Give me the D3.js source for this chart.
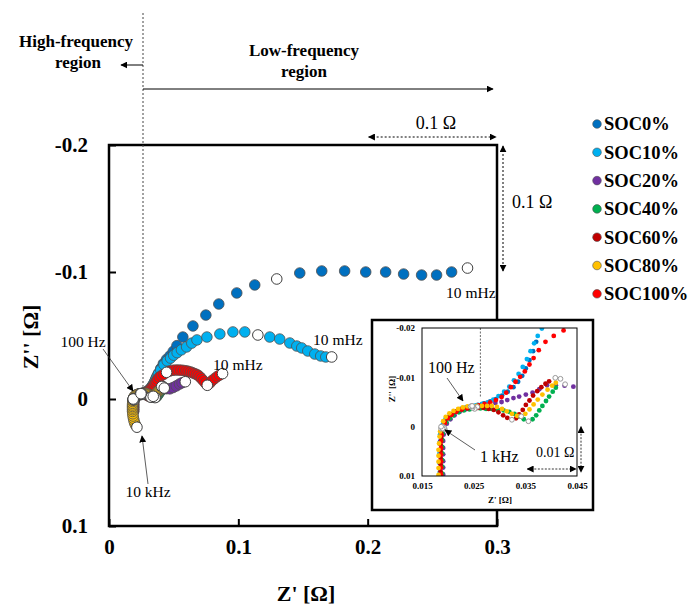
<!DOCTYPE html>
<html>
<head>
<meta charset="utf-8">
<script src="https://cdn.jsdelivr.net/npm/d3@7"></script>
<style>
    body { margin: 0; background: #fff; }
    svg { display: block; }
    text { font-family: "Liberation Serif", "Times New Roman", serif; }
</style>
</head>
<body>
<svg id="chart" width="688" height="605"></svg>
<script>
// Nyquist data [Z' (ohm), Z'' (ohm), decade frequency in Hz (0 = ordinary point)]
const soc0 = [
    [0.0185,0.0091,0],[0.0185,0.0071,0],[0.0185,0.0051,0],[0.0185,0.0030,0],[0.0186,0.0014,0],
    [0.0188,0.0002,1000],[0.0192,-0.0009,0],[0.0198,-0.0018,0],[0.0205,-0.0025,0],[0.0215,-0.0031,0],
    [0.0225,-0.0036,0],[0.0236,-0.0039,0],[0.0247,-0.0042,100],[0.0258,-0.0044,0],[0.0270,-0.0047,0],
    [0.0282,-0.0051,0],[0.0293,-0.0056,0],[0.0305,-0.0063,0],[0.0316,-0.0071,0],[0.0327,-0.0080,0],
    [0.0336,-0.0091,0],[0.0344,-0.0103,0],[0.0351,-0.0118,0],[0.0358,-0.0135,0],[0.0365,-0.0153,0],
    [0.0371,-0.0172,0],[0.0385,-0.0205,0],[0.0400,-0.0240,0],[0.0420,-0.0278,0],[0.0445,-0.0312,0],
    [0.0472,-0.0340,0],[0.0497,-0.0375,0],[0.0525,-0.0420,0],[0.0571,-0.0488,0],[0.0649,-0.0575,0],
    [0.0749,-0.0661,0],[0.0849,-0.0748,0],[0.0988,-0.0835,0],[0.1127,-0.0898,0],[0.1297,-0.0945,0.1],
    [0.1475,-0.0992,0],[0.1645,-0.1008,0],[0.1822,-0.1008,0],[0.1985,-0.1000,0],[0.2139,-0.1000,0],
    [0.2278,-0.0984,0],[0.2417,-0.0976,0],[0.2533,-0.0976,0],[0.2649,-0.1000,0],[0.2772,-0.1031,0.01]
]
const soc10 = [
    [0.0184,0.0095,0],[0.0184,0.0074,0],[0.0184,0.0054,0],[0.0184,0.0034,0],[0.0185,0.0016,0],
    [0.0187,0.0004,1000],[0.0191,-0.0007,0],[0.0196,-0.0017,0],[0.0204,-0.0024,0],[0.0212,-0.0030,0],
    [0.0222,-0.0035,0],[0.0233,-0.0038,0],[0.0244,-0.0041,100],[0.0254,-0.0043,0],[0.0266,-0.0046,0],
    [0.0277,-0.0049,0],[0.0288,-0.0055,0],[0.0298,-0.0062,0],[0.0309,-0.0071,0],[0.0319,-0.0081,0],
    [0.0328,-0.0094,0],[0.0337,-0.0107,0],[0.0345,-0.0121,0],[0.0353,-0.0137,0],[0.0360,-0.0153,0],
    [0.0367,-0.0169,0],[0.0374,-0.0184,0],[0.0382,-0.0199,0],[0.0400,-0.0230,0],[0.0425,-0.0270,0],
    [0.0450,-0.0300,0],[0.0476,-0.0322,0],[0.0500,-0.0345,0],[0.0527,-0.0365,0],[0.0560,-0.0387,0],
    [0.0600,-0.0410,0],[0.0640,-0.0440,0],[0.0680,-0.0465,0],[0.0757,-0.0488,0],[0.0857,-0.0512,0],
    [0.0958,-0.0528,0],[0.1050,-0.0528,0],[0.1151,-0.0504,0.1],[0.1243,-0.0488,0],[0.1320,-0.0472,0],
    [0.1398,-0.0441,0],[0.1452,-0.0417,0],[0.1490,-0.0402,0],[0.1537,-0.0378,0],[0.1591,-0.0354,0],
    [0.1637,-0.0339,0],[0.1676,-0.0331,0],[0.1722,-0.0331,0.01]
]
const soc20 = [
    [0.0191,0.0097,0],[0.0191,0.0083,0],[0.0191,0.0070,0],[0.0191,0.0056,0],[0.0191,0.0043,0],
    [0.0191,0.0029,0],[0.0192,0.0016,0],[0.0194,0.0005,1000],[0.0198,-0.0006,0],[0.0205,-0.0015,0],
    [0.0213,-0.0023,0],[0.0223,-0.0030,0],[0.0234,-0.0035,0],[0.0245,-0.0038,0],[0.0257,-0.0040,100],
    [0.0269,-0.0042,0],[0.0280,-0.0045,0],[0.0292,-0.0048,0],[0.0304,-0.0050,0],[0.0315,-0.0054,0],
    [0.0327,-0.0058,0],[0.0338,-0.0061,0],[0.0351,-0.0065,0],[0.0364,-0.0069,0],[0.0377,-0.0076,0],
    [0.0392,-0.0084,0],[0.0409,-0.0084,0],[0.0426,-0.0083,0],[0.0443,-0.0081,0],[0.0470,-0.0080,0],
    [0.0495,-0.0090,0],[0.0520,-0.0103,0],[0.0545,-0.0118,0],[0.0565,-0.0128,0],[0.0590,-0.0136,0.01]
]
const soc40 = [
    [0.0189,0.0095,0],[0.0189,0.0081,0],[0.0189,0.0068,0],[0.0189,0.0054,0],[0.0189,0.0041,0],
    [0.0189,0.0027,0],[0.0190,0.0014,0],[0.0193,0.0002,1000],[0.0197,-0.0009,0],[0.0204,-0.0017,0],
    [0.0211,-0.0023,0],[0.0221,-0.0029,0],[0.0231,-0.0033,0],[0.0242,-0.0035,0],[0.0252,-0.0036,100],
    [0.0263,-0.0037,0],[0.0274,-0.0036,0],[0.0285,-0.0036,0],[0.0297,-0.0034,0],[0.0308,-0.0033,0],
    [0.0319,-0.0030,0],[0.0329,-0.0026,0],[0.0338,-0.0021,0],[0.0347,-0.0015,0],[0.0356,-0.0011,1],
    [0.0364,-0.0015,0],[0.0371,-0.0023,0],[0.0377,-0.0033,0],[0.0383,-0.0042,0],[0.0390,-0.0052,0],
    [0.0396,-0.0061,0],[0.0403,-0.0071,0],[0.0409,-0.0079,0],[0.0418,-0.0097,0.01]
]
const soc60 = [
    [0.0186,0.0091,0],[0.0186,0.0076,0],[0.0186,0.0063,0],[0.0186,0.0049,0],[0.0186,0.0036,0],
    [0.0187,0.0022,0],[0.0187,0.0010,0],[0.0190,0.0000,1000],[0.0194,-0.0010,0],[0.0200,-0.0019,0],
    [0.0208,-0.0025,0],[0.0217,-0.0031,0],[0.0227,-0.0035,0],[0.0238,-0.0037,0],[0.0248,-0.0038,100],
    [0.0258,-0.0038,0],[0.0269,-0.0038,0],[0.0279,-0.0036,0],[0.0289,-0.0034,0],[0.0298,-0.0029,0],
    [0.0307,-0.0023,0],[0.0315,-0.0018,0],[0.0324,-0.0014,1],[0.0332,-0.0017,0],[0.0338,-0.0025,0],
    [0.0345,-0.0034,0],[0.0351,-0.0044,0],[0.0358,-0.0053,0],[0.0365,-0.0063,0],[0.0373,-0.0072,0],
    [0.0381,-0.0080,0],[0.0389,-0.0087,0],[0.0396,-0.0092,0],[0.0408,-0.0099,0.01]
]
const soc80 = [
    [0.0216,0.0222,10000],[0.0205,0.0205,0],[0.0198,0.0188,0],[0.0193,0.0170,0],[0.0189,0.0152,0],
    [0.0186,0.0134,0],[0.0184,0.0116,0],[0.0182,0.0098,0],[0.0182,0.0084,0],[0.0182,0.0071,0],
    [0.0182,0.0059,0],[0.0182,0.0047,0],[0.0183,0.0034,0],[0.0184,0.0020,0],[0.0185,0.0010,0],
    [0.0187,0.0000,1000],[0.0191,-0.0011,0],[0.0196,-0.0020,0],[0.0203,-0.0027,0],[0.0211,-0.0032,0],
    [0.0220,-0.0036,0],[0.0229,-0.0039,0],[0.0238,-0.0041,0],[0.0247,-0.0042,100],[0.0256,-0.0042,0],
    [0.0266,-0.0042,0],[0.0276,-0.0042,0],[0.0285,-0.0042,0],[0.0295,-0.0040,0],[0.0305,-0.0036,0],
    [0.0314,-0.0031,0],[0.0324,-0.0026,0],[0.0334,-0.0022,0],[0.0342,-0.0021,1],[0.0350,-0.0026,0],
    [0.0358,-0.0035,0],[0.0366,-0.0045,0],[0.0374,-0.0055,0],[0.0383,-0.0065,0],[0.0393,-0.0075,0],
    [0.0402,-0.0083,0],[0.0409,-0.0089,0],[0.0427,-0.0086,0.01]
]
const soc100 = [
    [0.0187,0.0097,0],[0.0187,0.0083,0],[0.0187,0.0070,0],[0.0187,0.0056,0],[0.0187,0.0043,0],
    [0.0187,0.0029,0],[0.0188,0.0016,0],[0.0190,0.0004,1000],[0.0194,-0.0007,0],[0.0200,-0.0017,0],
    [0.0207,-0.0024,0],[0.0216,-0.0030,0],[0.0226,-0.0035,0],[0.0237,-0.0038,0],[0.0248,-0.0041,100],
    [0.0260,-0.0043,0],[0.0271,-0.0046,0],[0.0282,-0.0049,0],[0.0293,-0.0054,0],[0.0304,-0.0060,0],
    [0.0313,-0.0069,0],[0.0322,-0.0080,0],[0.0331,-0.0091,0],[0.0340,-0.0101,0],[0.0349,-0.0112,0],
    [0.0358,-0.0126,0],[0.0366,-0.0139,0],[0.0376,-0.0155,0],[0.0389,-0.0172,0],[0.0405,-0.0184,0],
    [0.0424,-0.0195,0],[0.0445,-0.0210,1],[0.0470,-0.0220,0],[0.0494,-0.0226,0],[0.0515,-0.0228,0],
    [0.0535,-0.0228,0],[0.0555,-0.0227,0],[0.0575,-0.0225,0],[0.0595,-0.0222,0],[0.0613,-0.0218,0],
    [0.0630,-0.0213,0],[0.0646,-0.0207,0],[0.0661,-0.0200,0],[0.0676,-0.0194,0],[0.0690,-0.0186,0],
    [0.0703,-0.0174,0],[0.0716,-0.0160,0],[0.0730,-0.0144,0],[0.0745,-0.0126,0],[0.0760,-0.0108,0.1],
    [0.0780,-0.0125,0],[0.0797,-0.0145,0],[0.0815,-0.0160,0],[0.0835,-0.0176,0],[0.0855,-0.0188,0],
    [0.0878,-0.0200,0.01]
]

const seriesNames = ["SOC0%", "SOC10%", "SOC20%", "SOC40%", "SOC60%", "SOC80%", "SOC100%"]
const seriesData = [soc0, soc10, soc20, soc40, soc60, soc80, soc100]
const seriesColors = ["#0070c0", "#00b0f0", "#7030a0", "#00b050", "#c00000", "#ffc000", "#ff0000"]
// yellow drawn last so its inductive tail stays on top
const drawOrder = [0, 1, 2, 3, 4, 6, 5]

const xTicks = [0, 0.1, 0.2, 0.3]
const yTicks = [-0.2, -0.1, 0, 0.1]
const insetXTicks = [0.015, 0.025, 0.035, 0.045]
const insetYTicks = [-0.02, -0.01, 0, 0.01]
const boundaryZ = 0.0263   // high / low frequency split

// plain hyphen minus, as in the original figure
const plainFormat = d => String(d)

const svg = d3.select("#chart")

// Arrow head marker
svg.append("defs")
    .append("marker")
    .attr("id", "ah")
    .attr("viewBox", "0 0 10 10")
    .attr("refX", 9)
    .attr("refY", 5)
    .attr("markerWidth", 7)
    .attr("markerHeight", 7)
    .attr("markerUnits", "userSpaceOnUse")
    .attr("orient", "auto-start-reverse")
    .append("path")
    .attr("d", "M0,0L10,5L0,10z")
    .attr("fill", "black")

// Main scales
const x = d3.scaleLinear().domain([0, 0.3]).range([109, 497])
const y = d3.scaleLinear().domain([-0.2, 0.1]).range([145, 526])

// Main frame
svg.append("rect")
    .attr("x", x(0)).attr("y", y(-0.2))
    .attr("width", x(0.3) - x(0)).attr("height", y(0.1) - y(-0.2))
    .attr("fill", "none").attr("stroke", "black").attr("stroke-width", 2.5)

let yAxis = svg.append("g")
    .attr("transform", "translate(" + x(0) + ",0)")
    .call(d3.axisLeft(y).tickValues(yTicks).tickSize(-7).tickPadding(21).tickFormat(plainFormat))
let xAxis = svg.append("g")
    .attr("transform", "translate(0," + y(0.1) + ")")
    .call(d3.axisBottom(x).tickValues(xTicks).tickSize(-7).tickPadding(13).tickFormat(plainFormat))

for (let ax of [xAxis, yAxis]) {
    ax.attr("font-family", null)
    ax.select(".domain").remove()
    ax.selectAll(".tick line").attr("stroke", "black").attr("stroke-width", 2)
    ax.selectAll(".tick text")
        .attr("font-family", "Liberation Serif")
        .attr("font-size", 21)
        .attr("font-weight", "bold")
        .attr("fill", "black")
}

svg.append("text")
    .attr("x", 306).attr("y", 601)
    .attr("text-anchor", "middle")
    .attr("font-size", 22).attr("font-weight", "bold")
    .text("Z' [Ω]")
svg.append("text")
    .attr("transform", "translate(38,337) rotate(-90)")
    .attr("text-anchor", "middle")
    .attr("font-size", 22).attr("font-weight", "bold")
    .text("Z'' [Ω]")

// Frequency boundary
svg.append("line")
    .attr("x1", x(boundaryZ)).attr("x2", x(boundaryZ))
    .attr("y1", 13).attr("y2", y(-0.0095))
    .attr("stroke", "#444").attr("stroke-width", 1).attr("stroke-dasharray", "2,2")

svg.append("line")
    .attr("x1", x(boundaryZ)).attr("x2", 121).attr("y1", 65).attr("y2", 65)
    .attr("stroke", "black").attr("stroke-width", 1).attr("marker-end", "url(#ah)")
svg.append("line")
    .attr("x1", x(boundaryZ)).attr("x2", 493).attr("y1", 89).attr("y2", 89)
    .attr("stroke", "black").attr("stroke-width", 1).attr("marker-end", "url(#ah)")

const regionText = [
    { t: "High-frequency", x: 76, y: 47 },
    { t: "region", x: 78, y: 68 },
    { t: "Low-frequency", x: 304, y: 56 },
    { t: "region", x: 304, y: 77 }
]
svg.selectAll(".regionText").data(regionText).enter()
    .append("text")
    .attr("x", d => d.x).attr("y", d => d.y)
    .attr("text-anchor", "middle")
    .attr("font-size", 17).attr("font-weight", "bold")
    .text(d => d.t)

// 0.1 ohm scale arrows
svg.append("line")
    .attr("x1", x(0.2) + 1).attr("x2", x(0.3) - 1).attr("y1", 137).attr("y2", 137)
    .attr("stroke", "black").attr("stroke-width", 1).attr("stroke-dasharray", "2,2")
    .attr("marker-start", "url(#ah)").attr("marker-end", "url(#ah)")
svg.append("line")
    .attr("x1", 503).attr("x2", 503).attr("y1", y(-0.2) + 1).attr("y2", y(-0.1) - 1)
    .attr("stroke", "black").attr("stroke-width", 1).attr("stroke-dasharray", "2,2")
    .attr("marker-start", "url(#ah)").attr("marker-end", "url(#ah)")
svg.append("text").attr("x", 436).attr("y", 129).attr("text-anchor", "middle")
    .attr("font-size", 18).text("0.1 Ω")
svg.append("text").attr("x", 512).attr("y", 208)
    .attr("font-size", 18).text("0.1 Ω")

// Markers: coloured points first, then the open decade points on top
function drawSeries(g, xs, ys, r, strokeColor, strokeWidth, openStroke) {
    for (let i of drawOrder) {
        g.selectAll(null)
            .data(seriesData[i].filter(d => d[2] == 0))
            .enter()
            .append("circle")
            .attr("cx", d => xs(d[0]))
            .attr("cy", d => ys(d[1]))
            .attr("r", r)
            .attr("fill", seriesColors[i])
            .attr("stroke", strokeColor)
            .attr("stroke-width", strokeWidth)
    }
    for (let i of drawOrder) {
        g.selectAll(null)
            .data(seriesData[i].filter(d => d[2] != 0))
            .enter()
            .append("circle")
            .attr("cx", d => xs(d[0]))
            .attr("cy", d => ys(d[1]))
            .attr("r", r)
            .attr("fill", "white")
            .attr("stroke", openStroke)
            .attr("stroke-width", 1)
    }
}

let mainG = svg.append("g")
drawSeries(mainG, x, y, 5.3, "#505050", 0.8, "#404040")

// Main annotations
const mainNotes = [
    { t: "100 Hz", x: 83, y: 347, a: "middle" },
    { t: "10 kHz", x: 148, y: 497, a: "middle" },
    { t: "10 mHz", x: 213, y: 370, a: "start" },
    { t: "10 mHz", x: 313, y: 345, a: "start" },
    { t: "10 mHz", x: 446, y: 298, a: "start" }
]
svg.selectAll(".mainNote").data(mainNotes).enter()
    .append("text")
    .attr("x", d => d.x).attr("y", d => d.y)
    .attr("text-anchor", d => d.a)
    .attr("font-size", 15.5)
    .text(d => d.t)

svg.append("line")
    .attr("x1", 103).attr("y1", 349).attr("x2", 133).attr("y2", 391)
    .attr("stroke", "#333").attr("stroke-width", 0.8).attr("marker-end", "url(#ah)")
svg.append("line")
    .attr("x1", 148).attr("y1", 484).attr("x2", 142).attr("y2", 436)
    .attr("stroke", "#333").attr("stroke-width", 0.8).attr("marker-end", "url(#ah)")

// Inset
const ix = d3.scaleLinear().domain([0.015, 0.045]).range([422, 577])
const iy = d3.scaleLinear().domain([-0.02, 0.01]).range([328, 476])

svg.append("rect")
    .attr("x", 372).attr("y", 320).attr("width", 221).attr("height", 190)
    .attr("fill", "white").attr("stroke", "black").attr("stroke-width", 2.5)

svg.append("defs").append("clipPath").attr("id", "insetClip")
    .append("rect")
    .attr("x", ix(0.015)).attr("y", iy(-0.02))
    .attr("width", ix(0.045) - ix(0.015)).attr("height", iy(0.01) - iy(-0.02))

let iyAxis = svg.append("g")
    .attr("transform", "translate(" + ix(0.015) + ",0)")
    .call(d3.axisLeft(iy).tickValues(insetYTicks).tickSize(0).tickPadding(7).tickFormat(plainFormat))
let ixAxis = svg.append("g")
    .attr("transform", "translate(0," + iy(0.01) + ")")
    .call(d3.axisBottom(ix).tickValues(insetXTicks).tickSize(0).tickPadding(7).tickFormat(plainFormat))
for (let ax of [ixAxis, iyAxis]) {
    ax.attr("font-family", null)
    ax.select(".domain").remove()
    ax.selectAll(".tick text")
        .attr("font-family", "Liberation Serif")
        .attr("font-size", 9)
        .attr("font-weight", "bold")
        .attr("fill", "black")
}

svg.append("line")
    .attr("x1", ix(boundaryZ)).attr("x2", ix(boundaryZ))
    .attr("y1", iy(-0.02)).attr("y2", iy(-0.0058))
    .attr("stroke", "#444").attr("stroke-width", 0.8).attr("stroke-dasharray", "2,1.5")

let insetG = svg.append("g").attr("clip-path", "url(#insetClip)")
drawSeries(insetG, ix, iy, 2.4, "none", 0, "#9a9a9a")

svg.append("rect")
    .attr("x", ix(0.015)).attr("y", iy(-0.02))
    .attr("width", ix(0.045) - ix(0.015)).attr("height", iy(0.01) - iy(-0.02))
    .attr("fill", "none").attr("stroke", "black").attr("stroke-width", 1)

svg.append("text").attr("x", 500).attr("y", 503).attr("text-anchor", "middle")
    .attr("font-size", 9).attr("font-weight", "bold").text("Z' [Ω]")
svg.append("text").attr("transform", "translate(395,389) rotate(-90)").attr("text-anchor", "middle")
    .attr("font-size", 9).attr("font-weight", "bold").text("Z'' [Ω]")

const insetNotes = [
    { t: "100 Hz", x: 428, y: 373, s: 16 },
    { t: "1 kHz", x: 480, y: 462, s: 16 },
    { t: "0.01 Ω", x: 536, y: 457, s: 14 }
]
svg.selectAll(".insetNote").data(insetNotes).enter()
    .append("text")
    .attr("x", d => d.x).attr("y", d => d.y)
    .attr("font-size", d => d.s)
    .text(d => d.t)

svg.append("line")
    .attr("x1", 447).attr("y1", 378).attr("x2", 463).attr("y2", 401)
    .attr("stroke", "#333").attr("stroke-width", 0.8).attr("marker-end", "url(#ah)")
svg.append("line")
    .attr("x1", 475).attr("y1", 450).attr("x2", 445).attr("y2", 430)
    .attr("stroke", "#333").attr("stroke-width", 0.8).attr("marker-end", "url(#ah)")
svg.append("line")
    .attr("x1", ix(0.035) + 2).attr("x2", ix(0.045) - 1).attr("y1", 469).attr("y2", 469)
    .attr("stroke", "black").attr("stroke-width", 0.8).attr("stroke-dasharray", "2,1.5")
    .attr("marker-start", "url(#ah)").attr("marker-end", "url(#ah)")
svg.append("line")
    .attr("x1", 581).attr("x2", 581).attr("y1", iy(0)).attr("y2", iy(0.01) - 4)
    .attr("stroke", "black").attr("stroke-width", 0.8).attr("stroke-dasharray", "2,1.5")
    .attr("marker-start", "url(#ah)").attr("marker-end", "url(#ah)")

// Legend
let legend = svg.append("g")
seriesNames.forEach((name, i) => {
    let row = legend.append("g").attr("transform", "translate(597," + (124 + i * 28.3) + ")")
    row.append("circle")
        .attr("r", 4.3)
        .attr("fill", seriesColors[i])
        .attr("stroke", "#505050").attr("stroke-width", 0.6)
    row.append("text")
        .attr("x", 7).attr("dy", "0.35em")
        .attr("font-size", 18.5).attr("font-weight", "bold")
        .text(name)
})
</script>
</body>
</html>
